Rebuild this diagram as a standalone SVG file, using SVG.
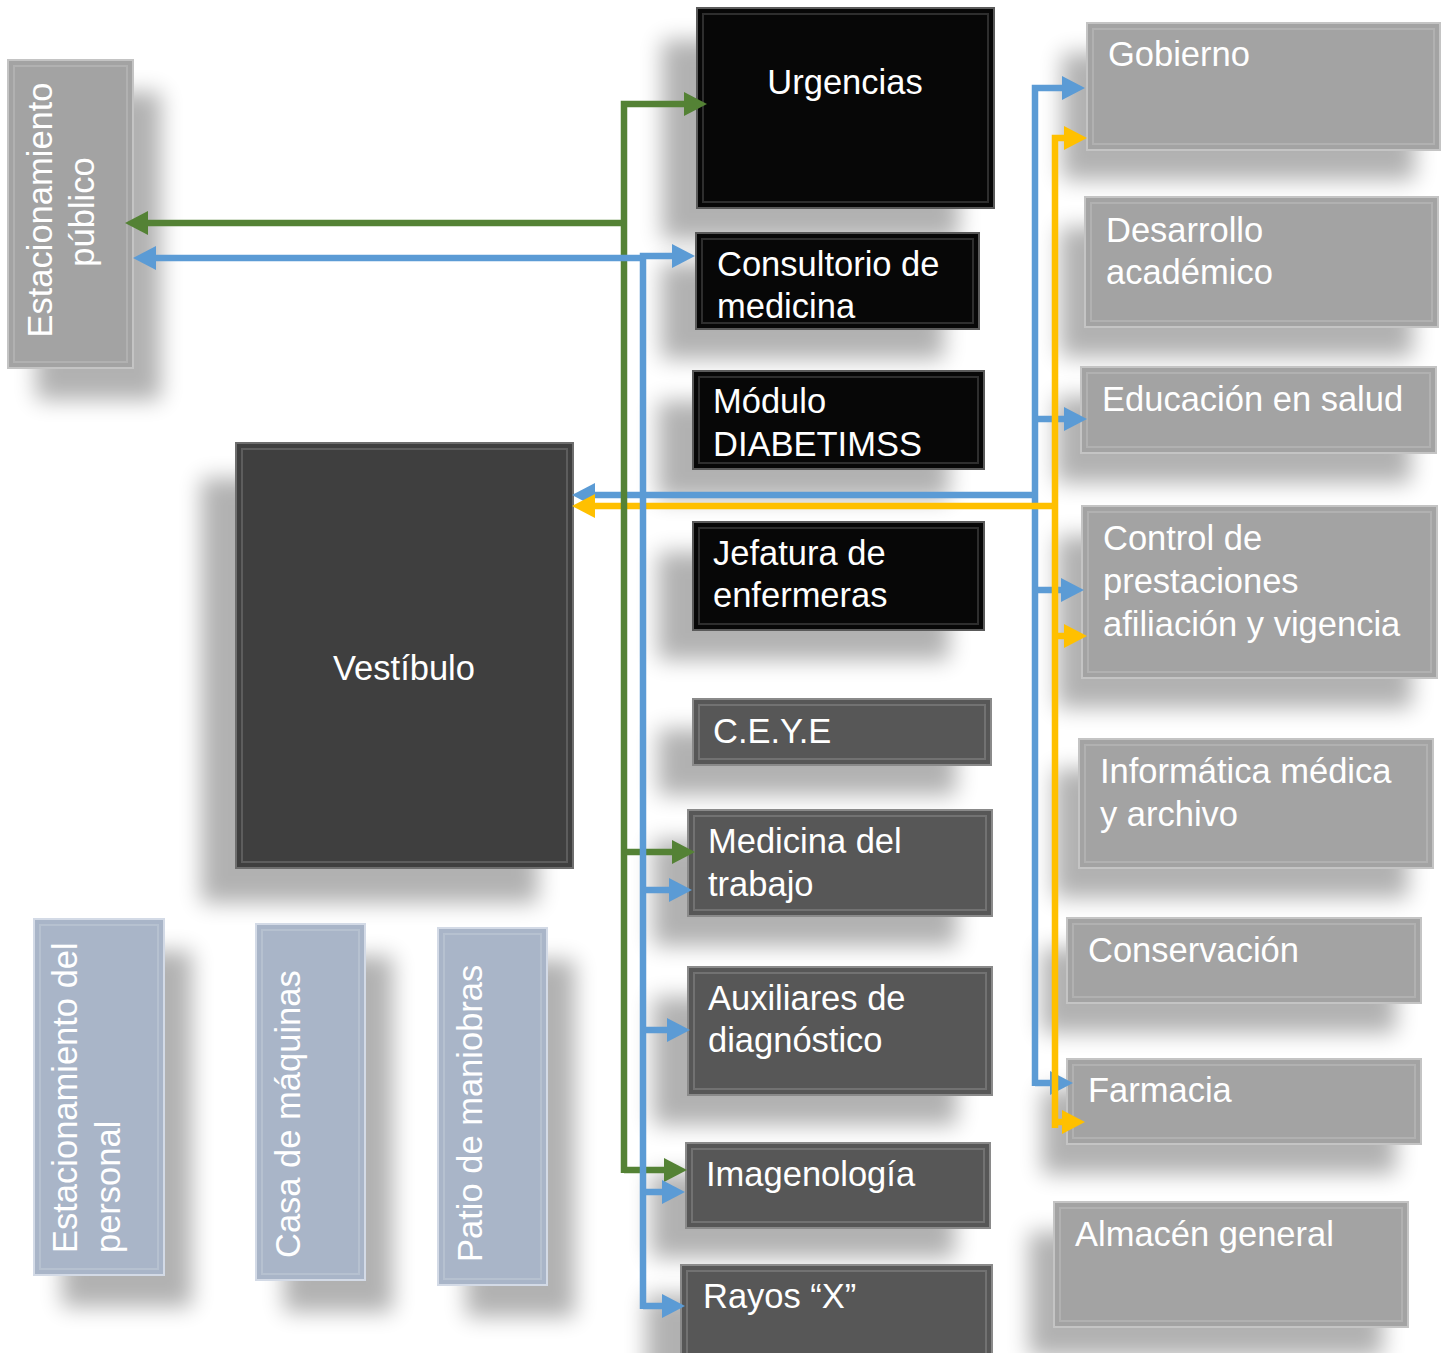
<svg xmlns="http://www.w3.org/2000/svg" width="1449" height="1353" viewBox="0 0 1449 1353">
<defs>
<style>
.t{font-family:"Liberation Sans",Arial,sans-serif;font-size:34.5px;fill:#fff}
.sh{fill:#000;opacity:.3;filter:url(#sh)}
.blk{fill:#070707;stroke:#5a5a5a;stroke-width:2}
.dk{fill:#575757;stroke:#8a8a8a;stroke-width:2}
.gr{fill:#a3a3a3;stroke:#c4c4c4;stroke-width:2}
.bl{fill:#a9b5c8;stroke:#d3dae6;stroke-width:2}
.vs{fill:#3f3f3f;stroke:#6e6e6e;stroke-width:2}
.bev{fill:none;stroke:#fff;stroke-opacity:.16;stroke-width:2}
.cg{fill:none;stroke:#548235;stroke-width:6.5}
.cb{fill:none;stroke:#5b9bd5;stroke-width:6.5}
.cy{fill:none;stroke:#ffc000;stroke-width:6.5}
</style>
<filter id="sh" x="-40%" y="-40%" width="180%" height="180%"><feGaussianBlur stdDeviation="11"/></filter>
<marker id="ag" markerUnits="userSpaceOnUse" markerWidth="24" markerHeight="24" viewBox="0 0 24 24" refX="0" refY="12" orient="auto"><path d="M0,0 L23,12 L0,24 z" fill="#548235"/></marker>
<marker id="ab" markerUnits="userSpaceOnUse" markerWidth="24" markerHeight="24" viewBox="0 0 24 24" refX="0" refY="12" orient="auto"><path d="M0,0 L23,12 L0,24 z" fill="#5b9bd5"/></marker>
<marker id="ay" markerUnits="userSpaceOnUse" markerWidth="24" markerHeight="24" viewBox="0 0 24 24" refX="0" refY="12" orient="auto"><path d="M0,0 L23,12 L0,24 z" fill="#ffc000"/></marker>
</defs>
<rect width="1449" height="1353" fill="#fff"/>

<g id="shadows">
<rect class="sh" x="36" y="92" width="125" height="308"/>
<rect class="sh" x="662" y="40" width="297" height="200"/>
<rect class="sh" x="661" y="263" width="283" height="96"/>
<rect class="sh" x="658" y="401" width="291" height="98"/>
<rect class="sh" x="658" y="552" width="291" height="108"/>
<rect class="sh" x="658" y="729" width="298" height="66"/>
<rect class="sh" x="653" y="840" width="304" height="106"/>
<rect class="sh" x="653" y="997" width="304" height="128"/>
<rect class="sh" x="651" y="1173" width="304" height="85"/>
<rect class="sh" x="646" y="1295" width="311" height="100"/>
<rect class="sh" x="1062" y="53" width="353" height="127"/>
<rect class="sh" x="1060" y="227" width="353" height="130"/>
<rect class="sh" x="1056" y="397" width="355" height="86"/>
<rect class="sh" x="1057" y="536" width="355" height="172"/>
<rect class="sh" x="1054" y="769" width="354" height="129"/>
<rect class="sh" x="1042" y="948" width="354" height="85"/>
<rect class="sh" x="1042" y="1089" width="354" height="85"/>
<rect class="sh" x="1029" y="1232" width="354" height="125"/>
<rect class="sh" x="201" y="478" width="337" height="425"/>
<rect class="sh" x="62" y="951" width="130" height="356"/>
<rect class="sh" x="284" y="956" width="109" height="356"/>
<rect class="sh" x="466" y="960" width="109" height="357"/>
</g>

<g id="n-est-publico">
<rect class="gr" x="8" y="60" width="125" height="308"/>
<rect class="bev" x="14" y="66" width="113" height="296"/>
<text class="t" text-anchor="middle" transform="translate(52,210) rotate(-90)">Estacionamiento</text>
<text class="t" text-anchor="middle" transform="translate(94,212) rotate(-90)">público</text>
</g>
<g id="n-urgencias">
<rect class="blk" x="697" y="8" width="297" height="200"/>
<rect class="bev" x="703" y="14" width="285" height="188"/>
<text class="t" x="845" y="94" text-anchor="middle">Urgencias</text>
</g>
<g id="n-consultorio">
<rect class="blk" x="696" y="233" width="283" height="96"/>
<rect class="bev" x="702" y="239" width="271" height="84"/>
<text class="t" x="717" y="276">Consultorio de</text>
<text class="t" x="717" y="318">medicina</text>
</g>
<g id="n-modulo">
<rect class="blk" x="693" y="371" width="291" height="98"/>
<rect class="bev" x="699" y="377" width="279" height="86"/>
<text class="t" x="713" y="413">Módulo</text>
<text class="t" x="713" y="456">DIABETIMSS</text>
</g>
<g id="n-jefatura">
<rect class="blk" x="693" y="522" width="291" height="108"/>
<rect class="bev" x="699" y="528" width="279" height="96"/>
<text class="t" x="713" y="565">Jefatura de</text>
<text class="t" x="713" y="607">enfermeras</text>
</g>
<g id="n-ceye">
<rect class="dk" x="693" y="699" width="298" height="66"/>
<rect class="bev" x="699" y="705" width="286" height="54"/>
<text class="t" x="713" y="743">C.E.Y.E</text>
</g>
<g id="n-medicina-trabajo">
<rect class="dk" x="688" y="810" width="304" height="106"/>
<rect class="bev" x="694" y="816" width="292" height="94"/>
<text class="t" x="708" y="853">Medicina del</text>
<text class="t" x="708" y="896">trabajo</text>
</g>
<g id="n-auxiliares">
<rect class="dk" x="688" y="967" width="304" height="128"/>
<rect class="bev" x="694" y="973" width="292" height="116"/>
<text class="t" x="708" y="1010">Auxiliares de</text>
<text class="t" x="708" y="1052">diagnóstico</text>
</g>
<g id="n-imagenologia">
<rect class="dk" x="686" y="1143" width="304" height="85"/>
<rect class="bev" x="692" y="1149" width="292" height="73"/>
<text class="t" x="706" y="1186">Imagenología</text>
</g>
<g id="n-rayos">
<rect class="dk" x="681" y="1265" width="311" height="100"/>
<rect class="bev" x="687" y="1271" width="299" height="88"/>
<text class="t" x="703" y="1308">Rayos “X”</text>
</g>
<g id="n-gobierno">
<rect class="gr" x="1087" y="23" width="353" height="127"/>
<rect class="bev" x="1093" y="29" width="341" height="115"/>
<text class="t" x="1108" y="66">Gobierno</text>
</g>
<g id="n-desarrollo">
<rect class="gr" x="1085" y="197" width="353" height="130"/>
<rect class="bev" x="1091" y="203" width="341" height="118"/>
<text class="t" x="1106" y="242">Desarrollo</text>
<text class="t" x="1106" y="284">académico</text>
</g>
<g id="n-educacion">
<rect class="gr" x="1081" y="367" width="355" height="86"/>
<rect class="bev" x="1087" y="373" width="343" height="74"/>
<text class="t" x="1102" y="411">Educación en salud</text>
</g>
<g id="n-control">
<rect class="gr" x="1082" y="506" width="355" height="172"/>
<rect class="bev" x="1088" y="512" width="343" height="160"/>
<text class="t" x="1103" y="550">Control de</text>
<text class="t" x="1103" y="593">prestaciones</text>
<text class="t" x="1103" y="636">afiliación y vigencia</text>
</g>
<g id="n-informatica">
<rect class="gr" x="1079" y="739" width="354" height="129"/>
<rect class="bev" x="1085" y="745" width="342" height="117"/>
<text class="t" x="1100" y="783">Informática médica</text>
<text class="t" x="1100" y="826">y archivo</text>
</g>
<g id="n-conservacion">
<rect class="gr" x="1067" y="918" width="354" height="85"/>
<rect class="bev" x="1073" y="924" width="342" height="73"/>
<text class="t" x="1088" y="962">Conservación</text>
</g>
<g id="n-farmacia">
<rect class="gr" x="1067" y="1059" width="354" height="85"/>
<rect class="bev" x="1073" y="1065" width="342" height="73"/>
<text class="t" x="1088" y="1102">Farmacia</text>
</g>
<g id="n-almacen">
<rect class="gr" x="1054" y="1202" width="354" height="125"/>
<rect class="bev" x="1060" y="1208" width="342" height="113"/>
<text class="t" x="1075" y="1246">Almacén general</text>
</g>
<g id="n-vestibulo">
<rect class="vs" x="236" y="443" width="337" height="425"/>
<rect class="bev" x="242" y="449" width="325" height="413"/>
<text class="t" x="404" y="680" text-anchor="middle">Vestíbulo</text>
</g>
<g id="n-est-personal">
<rect class="bl" x="34" y="919" width="130" height="356"/>
<rect class="bev" x="40" y="925" width="118" height="344"/>
<text class="t" transform="translate(77,1253) rotate(-90)">Estacionamiento del</text>
<text class="t" transform="translate(120,1253) rotate(-90)">personal</text>
</g>
<g id="n-casa">
<rect class="bl" x="256" y="924" width="109" height="356"/>
<rect class="bev" x="262" y="930" width="97" height="344"/>
<text class="t" transform="translate(300,1258) rotate(-90)">Casa de máquinas</text>
</g>
<g id="n-patio">
<rect class="bl" x="438" y="928" width="109" height="357"/>
<rect class="bev" x="444" y="934" width="97" height="345"/>
<text class="t" transform="translate(482,1262) rotate(-90)">Patio de maniobras</text>
</g>

<g id="connectors">
<path class="cb" d="M1035,1086 V88 H1062" marker-end="url(#ab)"/>
<path class="cb" d="M1035,419 H1064" marker-end="url(#ab)"/>
<path class="cb" d="M1035,590 H1061" marker-end="url(#ab)"/>
<path class="cb" d="M1035,1083 H1050" marker-end="url(#ab)"/>
<path class="cb" d="M1035,495 H595" marker-end="url(#ab)"/>
<path class="cy" d="M1055,1128 V138 H1064" marker-end="url(#ay)"/>
<path class="cy" d="M1055,636 H1064" marker-end="url(#ay)"/>
<path class="cy" d="M1055,1122 H1062" marker-end="url(#ay)"/>
<path class="cy" d="M1055,506 H595" marker-end="url(#ay)"/>
<path class="cg" d="M624,1173 V104 H684" marker-end="url(#ag)"/>
<path class="cg" d="M624,223 H148" marker-end="url(#ag)"/>
<path class="cg" d="M624,852 H672" marker-end="url(#ag)"/>
<path class="cg" d="M624,1170 H664" marker-end="url(#ag)"/>
<path class="cb" d="M643,258 H156" marker-end="url(#ab)"/>
<path class="cb" d="M643,1309 V256 H672" marker-end="url(#ab)"/>
<path class="cb" d="M643,890 H669" marker-end="url(#ab)"/>
<path class="cb" d="M643,1030 H667" marker-end="url(#ab)"/>
<path class="cb" d="M643,1192 H662" marker-end="url(#ab)"/>
<path class="cb" d="M643,1306 H662" marker-end="url(#ab)"/>
</g>
</svg>
